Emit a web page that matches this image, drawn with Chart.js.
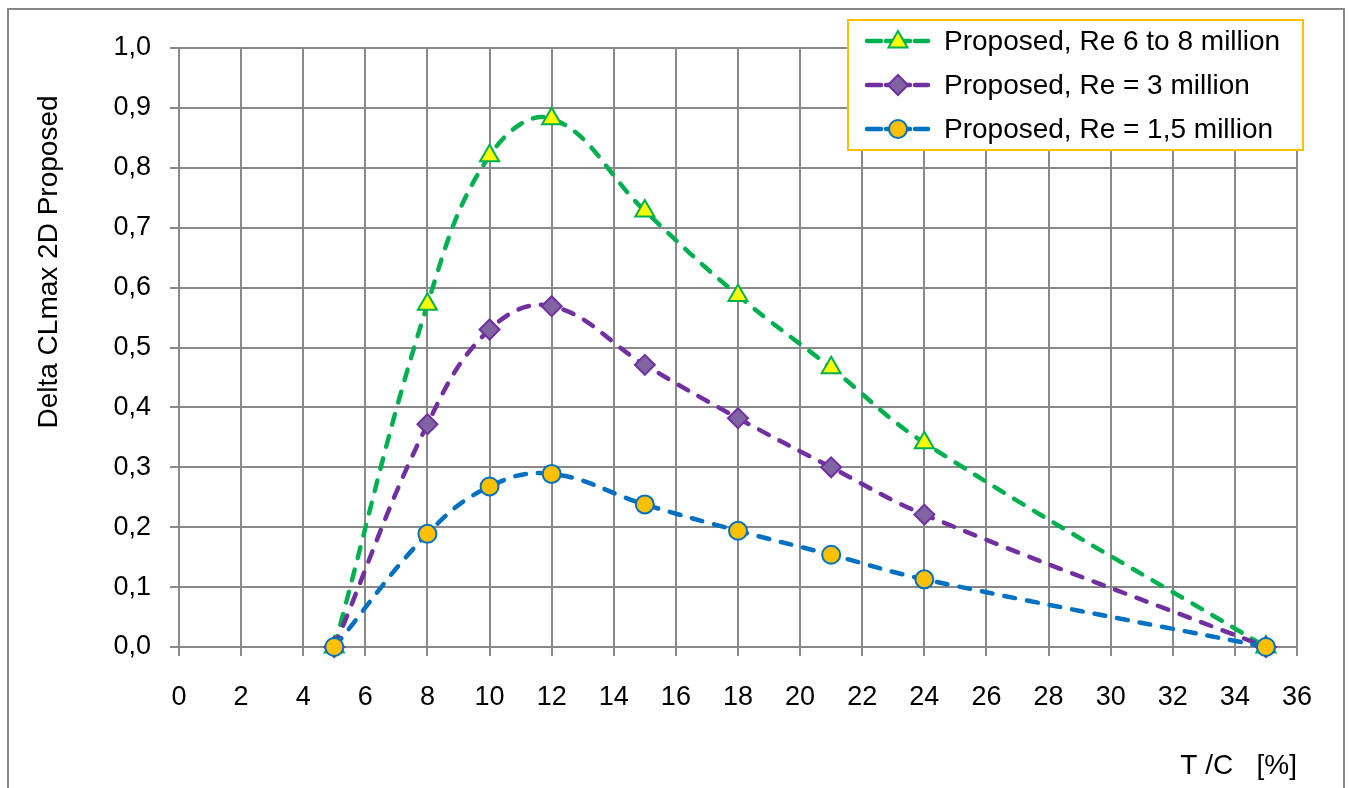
<!DOCTYPE html>
<html>
<head>
<meta charset="utf-8">
<title>Delta CLmax 2D Proposed</title>
<script src="https://cdn.jsdelivr.net/npm/chart.js@4/dist/chart.umd.min.js"></script>
<style>
  html, body { margin: 0; padding: 0; background: #ffffff; }
  #wrap { width: 1349px; height: 788px; }
</style>
</head>
<body>
<div id="wrap"><canvas id="chart" width="1349" height="788"></canvas></div>
<script>
// Thickness-to-chord ratio T/C [%]
const tcPercent = [5, 8, 10, 12, 15, 18, 21, 24, 35];

// Delta CLmax 2D for each Reynolds number range
const deltaReHigh = [0, 0.572, 0.82, 0.882, 0.728, 0.587, 0.466, 0.341, 0];
const deltaRe3    = [0, 0.372, 0.53, 0.569, 0.471, 0.382, 0.300, 0.221, 0];
const deltaRe15   = [0, 0.189, 0.268, 0.289, 0.238, 0.194, 0.154, 0.113, 0];

const seriesLabels = [
  'Proposed, Re 6 to 8 million',
  'Proposed, Re = 3 million',
  'Proposed, Re = 1,5 million'
];

// Axis ranges and steps
const xRange = [0, 36];
const xStep = 2;
const yRange = [0, 1];
const yStep = 0.1;

const xTitle = 'T /C   [%]';
const yTitle = 'Delta CLmax 2D Proposed';

const FONT = "'Liberation Sans', Arial, sans-serif";
const GRID = '#898989';

function toPoints(xs, ys) {
  return xs.map((x, i) => ({ x: x, y: ys[i] }));
}

const seriesStyles = [
  { line: '#00B050', fill: '#FFFF00', marker: 'triangle', radius: 11, order: 3 },
  { line: '#7030A0', fill: '#8064A2', marker: 'rectRot', radius: 10, order: 2 },
  { line: '#0070C0', fill: '#FFC000', marker: 'circle',   radius: 9,  order: 1 }
];
const seriesValues = [deltaReHigh, deltaRe3, deltaRe15];

const datasets = seriesValues.map((vals, i) => {
  const s = seriesStyles[i];
  return {
    label: seriesLabels[i],
    data: toPoints(tcPercent, vals),
    order: s.order,
    borderColor: s.line,
    borderWidth: 4.5,
    borderDash: [11, 12],
    borderCapStyle: 'round',
    tension: 0.4,
    fill: false,
    clip: false,
    pointStyle: s.marker,
    pointRadius: s.radius,
    pointHoverRadius: s.radius,
    pointBackgroundColor: s.fill,
    pointBorderColor: s.line,
    pointBorderWidth: 2
  };
});

// Simple marker painter used by the legend box
function drawMarker(ctx, style, x, y, r, fill, stroke) {
  ctx.save();
  ctx.beginPath();
  if (style === 'triangle') {
    const h = r * Math.sqrt(3) / 2;
    ctx.moveTo(x, y - r);
    ctx.lineTo(x + h, y + r / 2);
    ctx.lineTo(x - h, y + r / 2);
    ctx.closePath();
  } else if (style === 'rectRot') {
    ctx.moveTo(x - r, y);
    ctx.lineTo(x, y - r);
    ctx.lineTo(x + r, y);
    ctx.lineTo(x, y + r);
    ctx.closePath();
  } else {
    ctx.arc(x, y, r, 0, Math.PI * 2);
  }
  ctx.fillStyle = fill;
  ctx.fill();
  ctx.lineWidth = 2;
  ctx.strokeStyle = stroke;
  ctx.stroke();
  ctx.restore();
}

// Page frame, rotated y title and the legend box
const decorations = {
  id: 'decorations',
  beforeDraw(chart) {
    const ctx = chart.ctx;
    ctx.save();
    ctx.fillStyle = '#ffffff';
    ctx.fillRect(0, 0, chart.width, chart.height);
    ctx.strokeStyle = '#878787';
    ctx.lineWidth = 2;
    ctx.strokeRect(8, 9, 1336, 820);
    ctx.restore();
  },
  afterDraw(chart) {
    const ctx = chart.ctx;
    // y axis title
    ctx.save();
    ctx.translate(49, 262);
    ctx.rotate(-Math.PI / 2);
    ctx.font = '28px ' + FONT;
    ctx.fillStyle = '#000000';
    ctx.textAlign = 'center';
    ctx.textBaseline = 'middle';
    ctx.fillText(yTitle, 0, 0);
    ctx.restore();

    // legend
    const box = { x: 848, y: 20, w: 455, h: 130 };
    ctx.save();
    ctx.fillStyle = '#ffffff';
    ctx.fillRect(box.x, box.y, box.w, box.h);
    ctx.strokeStyle = '#FFC000';
    ctx.lineWidth = 2;
    ctx.strokeRect(box.x, box.y, box.w, box.h);
    const rows = [41, 85, 129];
    chart.data.datasets.forEach((ds, i) => {
      const y = rows[i];
      const s = seriesStyles[i];
      ctx.strokeStyle = s.line;
      ctx.lineWidth = 4.5;
      ctx.lineCap = 'round';
      [[867, 881], [886, 910], [915, 928]].forEach(seg => {
        ctx.beginPath();
        ctx.moveTo(seg[0], y);
        ctx.lineTo(seg[1], y);
        ctx.stroke();
      });
      drawMarker(ctx, s.marker, 898, y + (s.marker === 'triangle' ? 1 : 0), s.radius, s.fill, s.line);
      ctx.font = '28px ' + FONT;
      ctx.fillStyle = '#000000';
      ctx.textAlign = 'left';
      ctx.textBaseline = 'middle';
      ctx.fillText(ds.label, 944, y + 1);
    });
    ctx.restore();
  }
};

new Chart(document.getElementById('chart'), {
  type: 'line',
  data: { datasets: datasets },
  plugins: [decorations],
  options: {
    responsive: false,
    animation: false,
    events: [],
    layout: { padding: { left: 0, right: 52, top: 48, bottom: 0 } },
    plugins: {
      legend: { display: false },
      tooltip: { enabled: false },
      title: { display: false }
    },
    scales: {
      x: {
        type: 'linear',
        min: xRange[0],
        max: xRange[1],
        afterFit(scale) { scale.height = 141; },
        ticks: {
          stepSize: xStep,
          color: '#000000',
          padding: 25,
          maxRotation: 0,
          autoSkip: false,
          font: { family: FONT, size: 27, lineHeight: 1.2 }
        },
        grid: { color: GRID, lineWidth: 2, tickLength: 9, drawTicks: true },
        border: { color: GRID, width: 2 },
        title: {
          display: true,
          text: xTitle,
          align: 'end',
          color: '#000000',
          padding: { top: 0, bottom: 5 },
          font: { family: FONT, size: 28, lineHeight: 1.2 }
        }
      },
      y: {
        type: 'linear',
        min: yRange[0],
        max: yRange[1],
        afterFit(scale) { scale.width = 179; },
        ticks: {
          stepSize: yStep,
          color: '#000000',
          padding: 19,
          font: { family: FONT, size: 27, lineHeight: 1.2 },
          callback: v => Number(v).toFixed(1).replace('.', ',')
        },
        grid: { color: GRID, lineWidth: 2, tickLength: 9, drawTicks: true },
        border: { color: GRID, width: 2 }
      }
    }
  }
});
</script>
</body>
</html>
